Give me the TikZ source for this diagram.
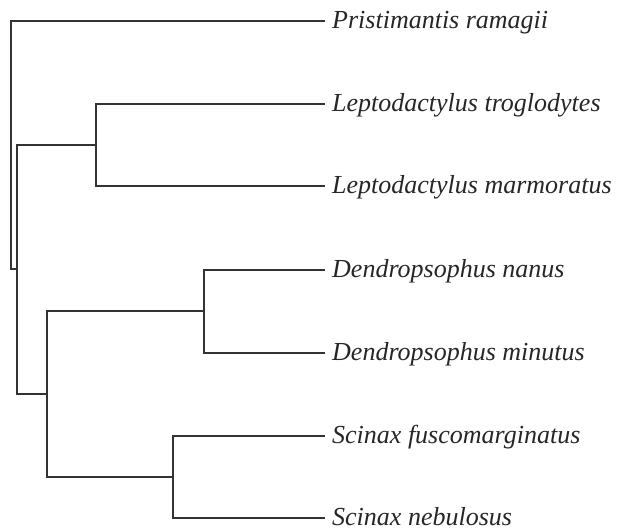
\documentclass[tikz,border=0pt]{standalone}
\usepackage{fontspec}
\setmainfont{Liberation Serif}
\begin{document}
\begin{tikzpicture}[x=1pt,y=1pt,
  branch/.style={line width=1.3pt,draw=black!80},
  taxon/.style={anchor=base west,inner sep=0pt,font=\fontsize{26}{26}\selectfont\itshape,text=black!85}]
\useasboundingbox (0,0) rectangle (619,-528);
% internal nodes
\coordinate (root) at (11,-145);
\coordinate (A) at (17,-269);
\coordinate (L) at (96,-145);
\coordinate (B) at (47,-394);
\coordinate (D) at (204,-311);
\coordinate (S) at (173,-477);
% tips
\coordinate (t1) at (325,-21);
\coordinate (t2) at (325,-104);
\coordinate (t3) at (325,-186);
\coordinate (t4) at (325,-270);
\coordinate (t5) at (325,-353);
\coordinate (t6) at (325,-436);
\coordinate (t7) at (325,-518);
% labels
\node[taxon] (n1) at (332,-28.5) {Pristimantis ramagii};
\node[taxon] (n2) at (332,-111.5) {Leptodactylus troglodytes};
\node[taxon] (n3) at (332,-193.5) {Leptodactylus marmoratus};
\node[taxon] (n4) at (332,-277.5) {Dendropsophus nanus};
\node[taxon] (n5) at (332,-360.5) {Dendropsophus minutus};
\node[taxon] (n6) at (332,-443.5) {Scinax fuscomarginatus};
\node[taxon] (n7) at (332,-525.5) {Scinax nebulosus};
% branches
\draw[branch] (root) |- (t1);
\draw[branch] (root) |- (A);
\draw[branch] (A) |- (L);
\draw[branch] (A) |- (B);
\draw[branch] (L) |- (t2);
\draw[branch] (L) |- (t3);
\draw[branch] (B) |- (D);
\draw[branch] (B) |- (S);
\draw[branch] (D) |- (t4);
\draw[branch] (D) |- (t5);
\draw[branch] (S) |- (t6);
\draw[branch] (S) |- (t7);
\end{tikzpicture}
\end{document}
